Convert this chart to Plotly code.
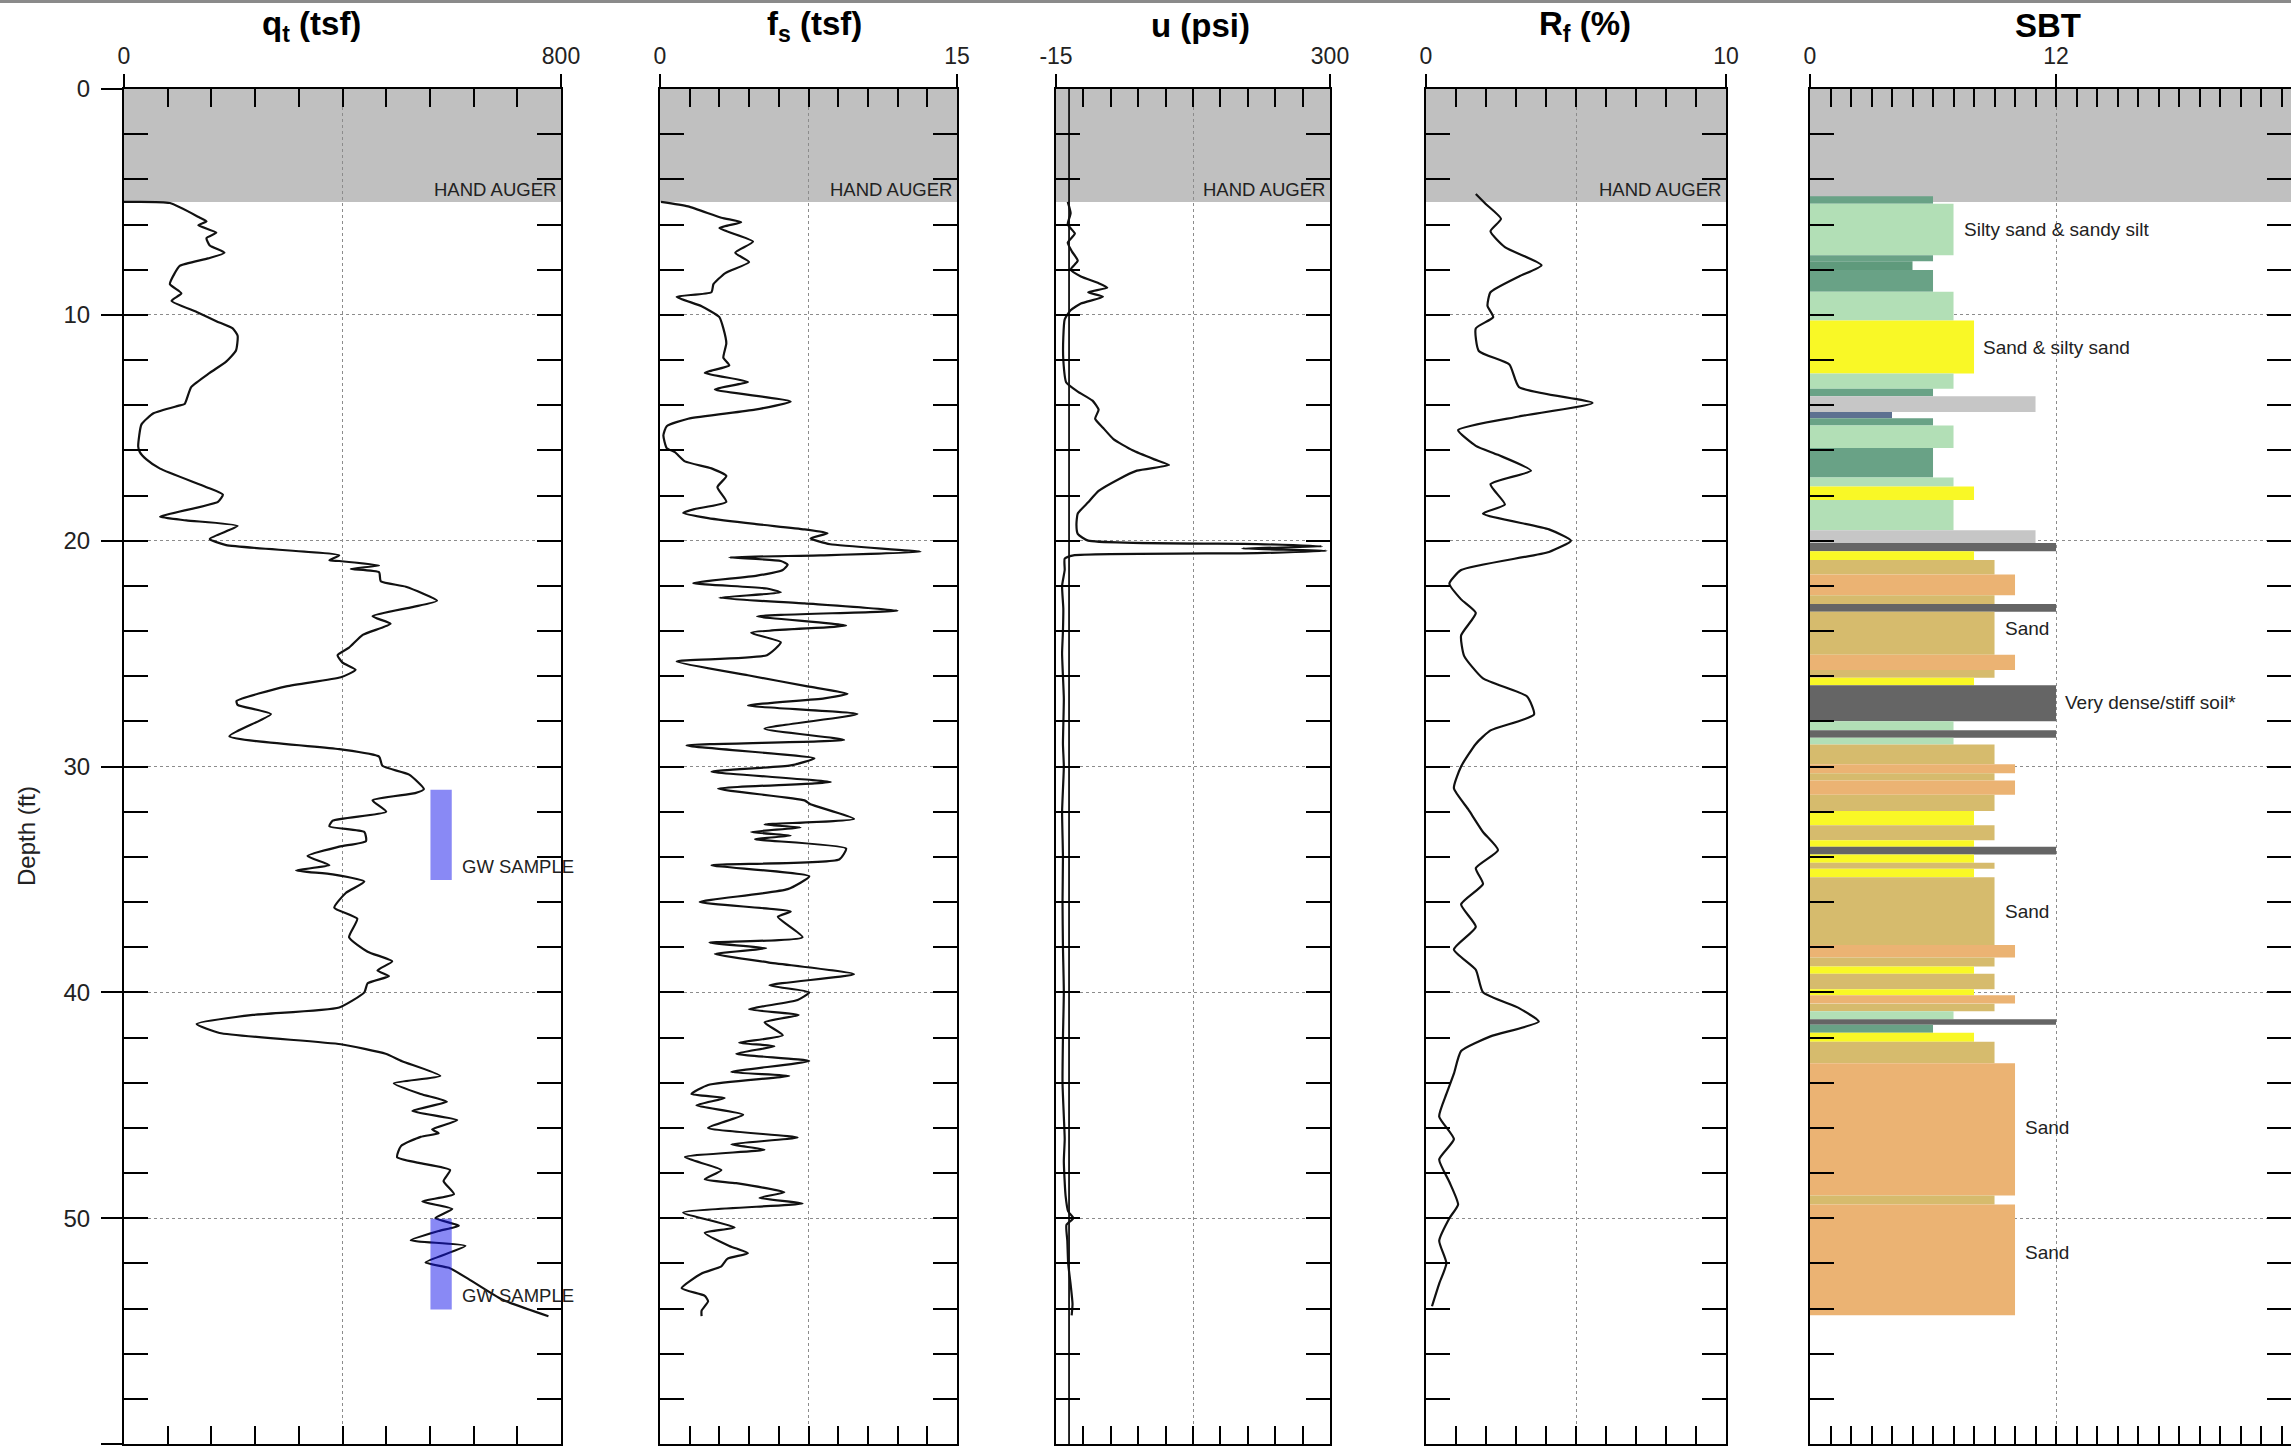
import numpy as np
import plotly.graph_objects as go

# ---------------- data ----------------
qt_depth = [5.0, 5.05, 5.7, 5.86, 6.03, 6.36, 6.6, 6.93, 7.25, 7.5, 7.83, 8.15, 8.64, 9.05, 9.38, 9.87,
            10.28, 10.6, 10.93, 11.58, 12.07, 12.57, 13.2, 13.95, 14.03, 14.36, 14.85, 15.83, 16.08, 16.4,
            16.81, 17.63, 17.96, 18.28, 18.94, 19.1, 19.35, 19.92, 20.2, 20.65, 20.87, 20.9, 21.1, 21.25,
            21.4, 21.8, 22.04, 22.66, 22.94, 23.35, 23.68, 24.17, 24.74, 25.07, 25.4, 25.72, 26.05, 26.45,
            27.1, 27.27, 27.68, 28.66, 29.23, 29.56, 29.97, 30.36, 31.0, 31.18, 31.5, 32.0, 32.4, 32.65,
            32.9, 33.3, 33.55, 33.96, 34.37, 34.6, 34.78, 35.1, 35.6, 36.25, 36.74, 37.56, 38.2, 38.63,
            39.03, 39.28, 39.6, 40.0, 40.67, 41.0, 41.4, 41.8, 42.3, 42.72, 43.05, 43.7, 44.03, 44.5,
            44.84, 45.25, 45.66, 46.07, 46.24, 46.4, 46.81, 47.3, 47.55, 47.87, 48.36, 48.94, 49.26, 49.59,
            50.0, 50.33, 50.57, 50.98, 51.23, 51.96, 52.2, 52.7, 53.6, 54.34]
qt_val = [0, 84, 139, 151, 136, 169, 151, 157, 184, 154, 102, 93, 84, 105, 87, 133,
          169, 199, 208, 205, 187, 157, 123, 111, 99, 54, 32, 26, 29, 41,
          66, 151, 181, 172, 66, 114, 208, 157, 187, 394, 376, 394, 467, 415,
          467, 470, 516, 573, 528, 455, 488, 437, 412, 391, 400, 424, 397, 297,
          206, 208, 269, 193, 394, 467, 473, 522, 549, 533, 455, 480, 382, 376,
          440, 443, 394, 336, 376, 315, 382, 440, 406, 385, 427, 412, 446, 491,
          464, 485, 446, 440, 394, 236, 133, 175, 397, 479, 509, 579, 494, 543,
          591, 528, 610, 564, 576, 543, 507, 500, 540, 597, 585, 604, 546, 601,
          570, 613, 576, 525, 625, 552, 595, 631, 692, 777]

fs_depth = [5.0, 5.2, 5.7, 5.9, 6.16, 6.76, 7.25, 7.66, 8.15, 8.64, 9.0, 9.2, 9.62, 10.1, 10.6, 11.26,
            11.9, 12.24, 12.57, 12.97, 13.3, 13.84, 14.2, 14.6, 14.93, 15.34, 15.9, 16.08, 16.49, 16.8,
            17.14, 17.63, 18.28, 18.6, 18.77, 19.0, 19.26, 19.5, 19.67, 19.9, 20.16, 20.49, 20.65, 20.74,
            20.9, 21.06, 21.3, 21.55, 21.88, 22.12, 22.29, 22.53, 22.78, 23.1, 23.35, 23.76, 24.08, 24.5,
            25.07, 25.35, 25.96, 26.45, 26.78, 26.98, 27.3, 27.68, 28.33, 28.82, 29.07, 29.64, 29.95,
            30.23, 30.69, 30.98, 31.5, 31.67, 32.32, 32.57, 32.7, 32.9, 33.06, 33.22, 33.63, 34.12, 34.37,
            34.86, 35.43, 36.0, 36.42, 36.66, 37.56, 37.8, 38.05, 38.3, 38.67, 39.2, 39.69, 40.0, 40.34,
            40.75, 41.0, 41.33, 41.9, 42.23, 42.39, 42.72, 43.04, 43.53, 43.7, 44.1, 44.5, 44.68, 45.0,
            45.42, 46.0, 46.43, 46.73, 46.97, 47.3, 47.87, 48.28, 48.45, 48.85, 49.1, 49.35, 49.75, 50.41,
            50.65, 51.23, 51.55, 51.8, 52.13, 52.45, 53.1, 53.44, 53.68, 54.1, 54.34]
fs_val = [0.05, 1.42, 3.1, 4.1, 3.0, 4.7, 3.8, 4.5, 3.3, 2.7, 2.6, 0.84, 2.1, 3.0, 3.2, 3.35,
          3.2, 3.5, 2.26, 4.44, 2.77, 6.6, 4.8, 1.42, 0.34, 0.17, 0.34, 0.75, 1.26, 2.6,
          3.35, 2.9, 3.35, 1.76, 1.17, 2.43, 4.78, 7.3, 8.46, 7.6, 8.6, 13.16, 8.1, 3.5,
          6.1, 6.45, 6.2, 4.9, 1.68, 5.4, 6.1, 3.0, 7.3, 12.0, 4.9, 9.4, 4.6, 6.1,
          5.4, 0.84, 4.44, 7.45, 9.47, 8.3, 4.44, 9.97, 5.28, 9.3, 1.34, 7.8, 6.6,
          2.6, 8.63, 2.93, 7.3, 7.6, 9.8, 5.28, 7.1, 4.6, 6.6, 4.8, 9.4, 9.05, 2.6,
          7.54, 6.45, 2.0, 6.6, 5.95, 7.2, 2.5, 5.36, 2.77, 5.45, 9.8, 5.53, 7.54, 6.95,
          4.5, 7.0, 5.28, 6.2, 4.0, 5.78, 3.85, 7.54, 3.6, 6.53, 2.43, 1.59, 3.27, 1.84,
          4.2, 2.43, 6.95, 3.6, 5.28, 1.26, 3.1, 2.26, 3.85, 6.28, 5.03, 7.2, 1.17, 3.77,
          2.26, 3.5, 4.44, 3.4, 3.1, 2.1, 1.09, 2.26, 2.43, 2.1, 2.1]

u_depth = [5.0, 5.5, 6.0, 6.4, 6.8, 7.2, 7.6, 8.0, 8.3, 8.6, 8.8, 9.0, 9.2, 9.5, 9.8, 10.2, 11.0, 12.0,
           13.0, 13.4, 13.8, 14.2, 14.6, 15.0, 15.5, 16.0, 16.4, 16.65, 16.9, 17.3, 17.8, 18.3, 18.8,
           19.3, 19.7, 20.0, 20.15, 20.25, 20.35, 20.45, 20.55, 20.65, 20.8, 21.3, 22.0, 23.0, 24.0,
           25.0, 27.0, 29.0, 30.0, 32.0, 34.0, 36.0, 38.0, 40.0, 42.0, 44.0, 45.5, 46.5, 47.5, 49.0,
           49.7, 50.0, 50.3, 51.0, 52.0, 53.0, 53.8, 54.3]
u_val = [-1.5, 1.8, -1.5, 6.7, -1.5, 3.4, 10, 1.8, 13.6, 34, 44, 22, 39, 13.6, 1.8, -5, -6.6, -6.6,
         -3.2, 10, 27, 34, 30, 39, 51, 73, 98, 115, 78, 56, 34, 22, 10,
         8.5, 10, 22, 216, 291, 199, 296, 216, 5, -5, -5, -8, -6.6, -7,
         -8, -6, -7, -6, -8, -7, -7.5, -7, -6, -7, -7.5, -6, -5, -6, -4,
         -1, 5, -3, -2, -1, 2, 4, 3]

u0_depth = [0, 60]
u0_val = [0, 0]

rf_depth = [4.65, 5.1, 5.75, 6.3, 7.0, 7.8, 8.3, 9.0, 9.6, 10.1, 10.6, 11.6, 12.2, 13.2, 13.9, 14.5,
            15.1, 15.8, 16.2, 16.9, 17.5, 18.4, 18.8, 19.5, 20.0, 20.5, 21.3, 21.9, 22.6, 23.2, 24.2,
            25.1, 26.1, 26.9, 27.7, 28.4, 29.0, 30.0, 30.96, 31.9, 32.9, 33.7, 34.5, 35.2, 36.1, 37.1,
            38.1, 39.0, 40.0, 40.7, 41.3, 41.95, 42.6, 43.6, 44.5, 45.5, 46.5, 47.4, 48.4, 49.4, 50.0,
            51.0, 52.0, 52.9, 53.9]
rf_val = [1.66, 2.0, 2.5, 2.15, 2.63, 3.85, 3.1, 2.15, 2.05, 2.24, 1.66, 1.76, 2.78, 3.1, 5.55, 3.1,
          1.07, 1.66, 2.4, 3.5, 2.15, 2.63, 1.9, 4.1, 4.83, 4.1, 1.17, 0.78, 1.17, 1.66, 1.17,
          1.27, 1.9, 3.37, 3.6, 2.15, 1.66, 1.17, 0.93, 1.41, 1.9, 2.4, 1.66, 1.9, 1.17, 1.66,
          0.93, 1.66, 1.9, 3.1, 3.76, 2.15, 1.17, 0.93, 0.68, 0.44, 0.93, 0.44, 0.78, 1.07, 0.78,
          0.44, 0.68, 0.44, 0.2]

sbt_top = [4.75, 5.08, 7.36, 7.63, 8.02, 8.98, 10.25, 12.6, 13.27, 13.6, 14.3, 14.58, 14.9, 15.9, 17.2,
           17.6, 18.2, 19.54, 20.1, 20.47, 20.86, 21.5, 22.42, 22.8, 23.15, 25.05, 25.73, 26.07, 26.4,
           28.0, 28.39, 28.73, 29.03, 29.9, 30.3, 30.62, 31.25, 31.97, 32.6, 33.27, 33.55, 33.9, 34.26,
           34.53, 34.9, 37.9, 38.46, 38.86, 39.18, 39.86, 40.13, 40.5, 40.84, 41.19, 41.44, 41.79, 42.19,
           43.14, 49.0, 49.4]
sbt_bot = sbt_top[1:] + [54.3]
sbt_zone = [6, 7, 6, 5, 6, 7, 8, 7, 6, 11, 4, 6, 7, 6, 7,
            8, 7, 11, 12, 8, 9, 10, 9, 12, 9, 10, 9, 8, 12,
            7, 12, 7, 9, 10, 9, 10, 9, 8, 9, 8, 12, 8, 9,
            8, 9, 10, 9, 8, 9, 8, 10, 9, 7, 12, 6, 8, 9,
            10, 9, 10]
zone_colors = {4: "#5d7191", 5: "#5f9a7c", 6: "#69a286", 7: "#b2dfb6", 8: "#f9f826",
               9: "#d6bb6d", 10: "#ebb373", 11: "#c6c6c6", 12: "#656565"}

sbt_label_text = ["Silty sand & sandy silt", "Sand & silty sand", "Sand", "Very dense/stiff soil*",
                  "Sand", "Sand", "Sand"]
sbt_label_depth = [6.2, 11.45, 23.9, 27.15, 36.4, 46.0, 51.5]
sbt_label_x = [7.4, 8.35, 9.4, 12.35, 9.4, 10.4, 10.4]

gw_top = [31.03, 50.03]
gw_bot = [35.03, 54.04]
gw_qt_lo = 561
gw_qt_hi = 600

hand_auger_depth = 5.0

panel_titles = ["<b>q<sub>t</sub> (tsf)</b>", "<b>f<sub>s</sub> (tsf)</b>", "<b>u (psi)</b>",
                "<b>R<sub>f</sub> (%)</b>", "<b>SBT</b>"]
x_ranges = [(0, 800), (0, 15), (-15, 300), (0, 10), (0, 23.46)]
x_label_vals = [[0, 800], [0, 15], [-15, 300], [0, 10], [0, 12]]
x_minor_step = [80, 1.5, 31.5, 1, 1]
x_grid_val = [400, 7.5, 142.5, 5, 12]
depth_ticks = [0, 10, 20, 30, 40, 50, 60]

# ---------------- layout geometry (pixels) ----------------
W, H = 2291, 1449
panel_px = [(124, 561), (660, 957), (1056, 1330), (1426, 1726), (1810, 2291)]
title_px = [311, 814, 1200, 1585, 2048]
y_top_px, y_bot_px = 89, 1444
ydom = [(H - y_bot_px) / H, (H - y_top_px) / H]

FONT = "Liberation Sans, Arial, sans-serif"
LINE = "#111111"
GRID = "#8c8c8c"

fig = go.Figure()

# curves
curve_sets = [(qt_val, qt_depth, 1), (fs_val, fs_depth, 2), (u_val, u_depth, 3), (rf_val, rf_depth, 4)]
fig.add_trace(go.Scatter(x=u0_val, y=u0_depth, mode="lines", line=dict(color=LINE, width=1.8),
                         xaxis="x3", yaxis="y3", hoverinfo="skip"))
for xs, ys, k in curve_sets:
    fig.add_trace(go.Scatter(x=xs, y=ys, mode="lines",
                             line=dict(color=LINE, width=2.2, shape="spline", smoothing=0.5),
                             xaxis=f"x{k}" if k > 1 else "x", yaxis=f"y{k}" if k > 1 else "y",
                             hoverinfo="skip"))

# GW sample intervals (drawn over the qt curve, translucent)
for t, b in zip(gw_top, gw_bot):
    fig.add_trace(go.Scatter(x=[gw_qt_lo, gw_qt_hi, gw_qt_hi, gw_qt_lo, gw_qt_lo],
                             y=[t, t, b, b, t], mode="lines", fill="toself",
                             fillcolor="rgba(20,20,235,0.5)", line=dict(width=0),
                             xaxis="x", yaxis="y", hoverinfo="skip"))

# SBT layers
mids = [(t + b) / 2 for t, b in zip(sbt_top, sbt_bot)]
thick = [b - t for t, b in zip(sbt_top, sbt_bot)]
fig.add_trace(go.Bar(y=mids, x=sbt_zone, width=thick, orientation="h",
                     marker=dict(color=[zone_colors[z] for z in sbt_zone], line=dict(width=0)),
                     xaxis="x5", yaxis="y5", hoverinfo="skip"))

# dummy traces for label axes
for k in range(1, 6):
    fig.add_trace(go.Scatter(x=[None], y=[None], mode="lines", xaxis=f"x{k+5}",
                             yaxis="y" if k == 1 else f"y{k}", hoverinfo="skip"))
fig.add_trace(go.Scatter(x=[None], y=[None], mode="lines", xaxis="x", yaxis="y6", hoverinfo="skip"))

layout = dict(width=W, height=H, autosize=False,
              margin=dict(l=0, r=0, t=0, b=0, pad=0, autoexpand=False),
              paper_bgcolor="white", plot_bgcolor="white", showlegend=False, barmode="overlay",
              font=dict(family=FONT, color="#222222"))

shapes = []
annotations = []
for i in range(5):
    k = i + 1
    xn = "xaxis" if k == 1 else f"xaxis{k}"
    yn = "yaxis" if k == 1 else f"yaxis{k}"
    xid = "x" if k == 1 else f"x{k}"
    yid = "y" if k == 1 else f"y{k}"
    lo, hi = x_ranges[i]
    dom = [panel_px[i][0] / W, panel_px[i][1] / W]
    step = x_minor_step[i]
    minor_vals = [v for v in np.arange(x_label_vals[i][0], hi + 1e-9, step)
                  if abs(v - x_grid_val[i]) > 1e-6]
    layout[xn] = dict(domain=dom, range=[lo, hi], anchor=yid, side="top", automargin=False,
                      tickmode="array", tickvals=[x_grid_val[i]], showticklabels=False,
                      ticks="inside", ticklen=18, tickwidth=2, tickcolor="black",
                      showgrid=True, gridcolor=GRID, griddash="dot", gridwidth=1,
                      showline=True, linecolor="black", linewidth=2, mirror="ticks",
                      zeroline=False,
                      minor=dict(tickmode="array", tickvals=minor_vals, ticks="inside", ticklen=18,
                                 tickwidth=2, tickcolor="black", showgrid=False))
    layout[yn] = dict(domain=ydom, range=[60, 0], anchor=xid, automargin=False,
                      tickmode="linear", tick0=0, dtick=10, showticklabels=False,
                      ticks="inside", ticklen=24, tickwidth=2, tickcolor="black",
                      showgrid=True, gridcolor=GRID, griddash="dot", gridwidth=1,
                      showline=True, linecolor="black", linewidth=2, mirror="ticks",
                      zeroline=False,
                      minor=dict(tickmode="linear", tick0=0, dtick=2, ticks="inside", ticklen=24,
                                 tickwidth=2, tickcolor="black", showgrid=False))
    # label axis on top
    layout[f"xaxis{k+5}"] = dict(domain=dom, range=[lo, hi], overlaying=xid, anchor=yid, side="top",
                                 automargin=False,
                                 tickmode="array", tickvals=x_label_vals[i],
                                 ticktext=[f"{v:g}" for v in x_label_vals[i]],
                                 ticks="outside", ticklen=14, tickwidth=2, tickcolor="black",
                                 showline=False, showgrid=False, zeroline=False,
                                 tickfont=dict(size=23, color="#222222", family=FONT),
                                 ticklabelstandoff=1)
    shapes.append(dict(type="rect", xref=f"{xid} domain", yref=yid, x0=0, x1=1, y0=0,
                       y1=hand_auger_depth, fillcolor="#c0c0c0", line=dict(width=0), layer="below"))
    annotations.append(dict(text=panel_titles[i], xref="paper", yref="paper", x=title_px[i] / W,
                            y=1 - 26 / H, xanchor="center", yanchor="middle", showarrow=False,
                            font=dict(size=33, color="black", family=FONT)))
    if k <= 4:
        annotations.append(dict(text="HAND AUGER", xref=f"{xid} domain", yref=yid, x=1, xshift=-3,
                                y=hand_auger_depth - 0.55, xanchor="right", yanchor="middle",
                                showarrow=False, font=dict(size=18.5, color="#222222", family=FONT)))

layout["yaxis6"] = dict(domain=ydom, range=[60, 0], overlaying="y", anchor="x", side="left",
                        automargin=False,
                        tickmode="array", tickvals=depth_ticks, ticktext=[str(v) for v in depth_ticks],
                        ticks="outside", ticklen=22, tickwidth=2, tickcolor="black",
                        showline=False, showgrid=False, zeroline=False,
                        tickfont=dict(size=24, color="#222222", family=FONT), ticklabelstandoff=6)

annotations.append(dict(text="Depth (ft)", xref="paper", yref="paper", x=26 / W, y=1 - 836 / H,
                        textangle=-90, xanchor="center", yanchor="middle", showarrow=False,
                        font=dict(size=24, color="#222222", family=FONT)))

for t, b in zip(gw_top, gw_bot):
    annotations.append(dict(text="GW SAMPLE", xref="x", yref="y", x=gw_qt_hi + 15, y=b - 0.6,
                            xanchor="left", yanchor="middle", showarrow=False,
                            font=dict(size=18.5, color="#222222", family=FONT)))

for txt, d, xv in zip(sbt_label_text, sbt_label_depth, sbt_label_x):
    annotations.append(dict(text=txt, xref="x5", yref="y5", x=xv, y=d, xanchor="left",
                            yanchor="middle", showarrow=False,
                            font=dict(size=19, color="#222222", family=FONT)))

shapes.append(dict(type="rect", xref="paper", yref="paper", x0=0, x1=1, y0=1 - 3 / H, y1=1,
                   fillcolor="#8a8a8a", line=dict(width=0), layer="above"))

layout["shapes"] = shapes
layout["annotations"] = annotations
fig.update_layout(**layout)

fig.write_html("out.html", config={"displayModeBar": False},
               post_script="document.body.style.margin='0';document.body.style.overflow='hidden';")
